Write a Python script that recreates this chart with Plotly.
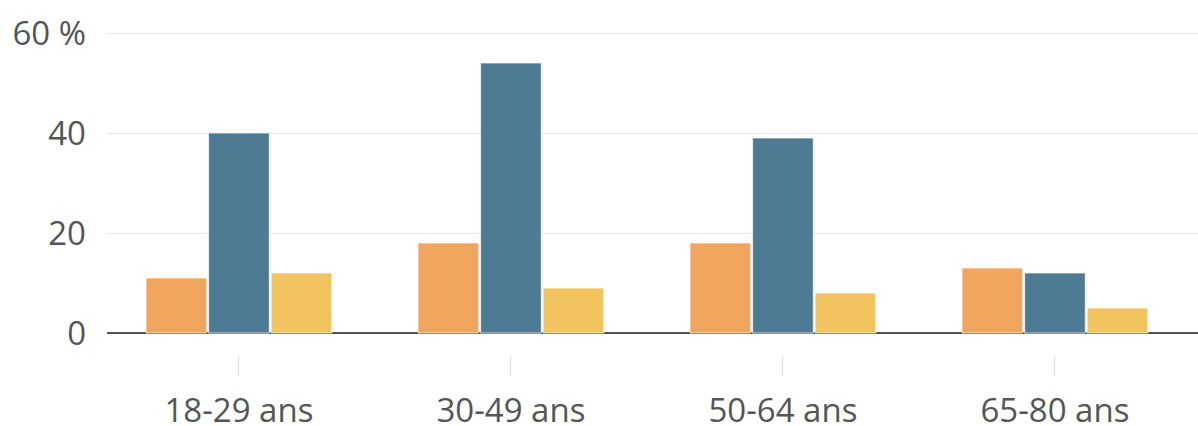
import plotly.graph_objects as go

# Tranches d'âge et parts (%) pour les trois séries
categories = ["18-29 ans", "30-49 ans", "50-64 ans", "65-80 ans"]
serie_orange = [11, 18, 18, 13]
serie_bleue = [40, 54, 39, 12]
serie_jaune = [12, 9, 8, 5]

y_ticks = [0, 20, 40, 60]
y_tick_labels = ["0", "20", "40", "60 %"]

colors = ["#F0A65C", "#4E7B94", "#F2C45F"]
series = [serie_orange, serie_bleue, serie_jaune]

fig = go.Figure()
for vals, col in zip(series, colors):
    fig.add_trace(go.Bar(
        x=categories,
        y=vals,
        marker=dict(color=col, line=dict(color="rgba(255,255,255,0.7)", width=1)),
        hoverinfo="skip",
    ))

fig.update_layout(
    width=1198,
    height=426,
    margin=dict(l=107, r=0, t=31, b=71),
    paper_bgcolor="white",
    plot_bgcolor="white",
    barmode="group",
    bargap=0.31,
    bargroupgap=0.03,
    showlegend=False,
    font=dict(family="Open Sans", size=33, color="#555555"),
)

fig.update_xaxes(
    range=[-0.485, 3.526],
    automargin=False,
    showgrid=False,
    showline=False,
    zeroline=False,
    ticks="outside",
    ticklen=20,
    tickwidth=1,
    tickcolor="#dddddd",
    ticklabelstandoff=6,
    tickfont=dict(size=33, color="#555555"),
)

fig.update_yaxes(
    range=[-4.4, 60.4],
    automargin=False,
    tickvals=y_ticks,
    ticktext=y_tick_labels,
    showgrid=True,
    gridcolor="#e6e6e6",
    gridwidth=1,
    zeroline=True,
    zerolinecolor="#555555",
    zerolinewidth=1.5,
    showline=False,
    ticks="",
    ticklabelstandoff=20,
    tickfont=dict(size=33, color="#555555"),
)

fig.write_html("out.html")
